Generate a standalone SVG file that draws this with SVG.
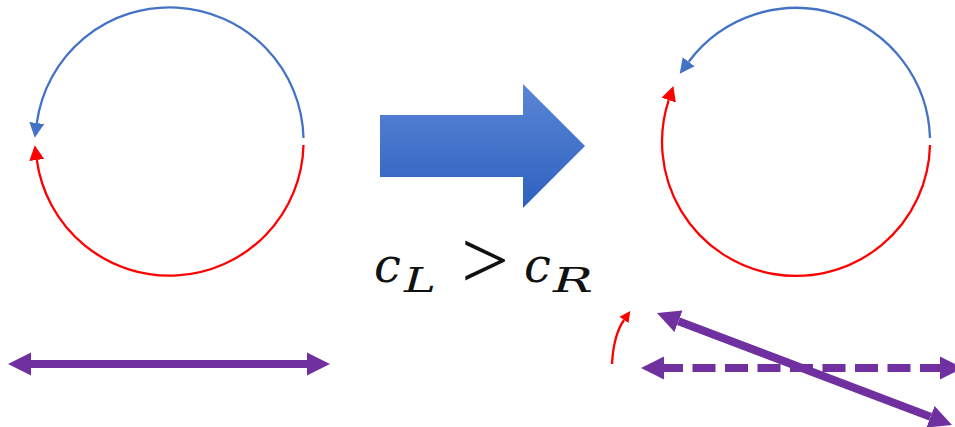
<svg xmlns="http://www.w3.org/2000/svg" width="955" height="427" viewBox="0 0 955 427">
<style>
.blue{fill:none;stroke:#4472c4;stroke-width:2.3}
.red{fill:none;stroke:#ff0000;stroke-width:2.3}
.pur{fill:none;stroke:#7030a0;stroke-width:8}
</style>
<defs>
<marker id="hb" markerUnits="userSpaceOnUse" markerWidth="16" markerHeight="16" viewBox="0 -8 16 16" refX="0" refY="0" orient="auto"><path d="M0,-7.5 L15,0 L0,7.5 z" fill="#4472c4"/></marker>
<marker id="hr" markerUnits="userSpaceOnUse" markerWidth="16" markerHeight="16" viewBox="0 -8 16 16" refX="0" refY="0" orient="auto"><path d="M0,-7.5 L15,0 L0,7.5 z" fill="#ff0000"/></marker>
<marker id="hrs" markerUnits="userSpaceOnUse" markerWidth="12" markerHeight="12" viewBox="0 -6 12 12" refX="0" refY="0" orient="auto"><path d="M0,-5.5 L11,0 L0,5.5 z" fill="#ff0000"/></marker>
<marker id="hp" markerUnits="userSpaceOnUse" markerWidth="24" markerHeight="24" viewBox="0 -12 24 24" refX="0" refY="0" orient="auto-start-reverse"><path d="M0,-11.5 L23,0 L0,11.5 z" fill="#7030a0"/></marker>
<linearGradient id="ga" x1="0" y1="0" x2="0" y2="1">
<stop offset="0" stop-color="#5a86d5"/>
<stop offset="1" stop-color="#2d60bf"/>
</linearGradient>
</defs>
<g id="connectors">
<path class="blue" d="M303.5,138 A134,134 0 0 0 36.8,123" marker-end="url(#hb)"/>
<path class="red" d="M303.5,145 A134,134 0 0 1 36.8,160" marker-end="url(#hr)"/>
<path class="blue" d="M930,138 A134,134 0 0 0 688.7,61.7" marker-end="url(#hb)"/>
<path class="red" d="M930,145 A134,134 0 1 1 668.7,100.2" marker-end="url(#hr)"/>
<path class="pur" d="M31,364 L307,364" marker-start="url(#hp)" marker-end="url(#hp)"/>
<path class="red" d="M612,364 C613,345 617,330 624,320" marker-end="url(#hrs)"/>
<path class="pur" d="M664,368 L940,368" stroke-dasharray="23 9.5" stroke-dashoffset="4" marker-start="url(#hp)" marker-end="url(#hp)"/>
<path class="pur" d="M678.5,321.2 L930.5,416.8" marker-start="url(#hp)" marker-end="url(#hp)"/>
</g>
<g id="big-arrow">
<path d="M380,115 L523,115 L523,84 L585,146 L523,208 L523,177 L380,177 z" fill="url(#ga)"/>
</g>
<g id="label" font-family="'DejaVu Serif', serif" fill="#111">
<text x="374" y="282" font-size="48" font-style="italic">c</text>
<text x="404" y="292" font-size="34" font-style="italic" textLength="32" lengthAdjust="spacingAndGlyphs">L</text>
<text x="461" y="288" font-size="82" font-family="'Liberation Serif', serif" textLength="48" lengthAdjust="spacingAndGlyphs">&gt;</text>
<text x="524" y="282" font-size="48" font-style="italic">c</text>
<text x="553" y="292" font-size="34" font-style="italic" textLength="40" lengthAdjust="spacingAndGlyphs">R</text>
</g>
</svg>
